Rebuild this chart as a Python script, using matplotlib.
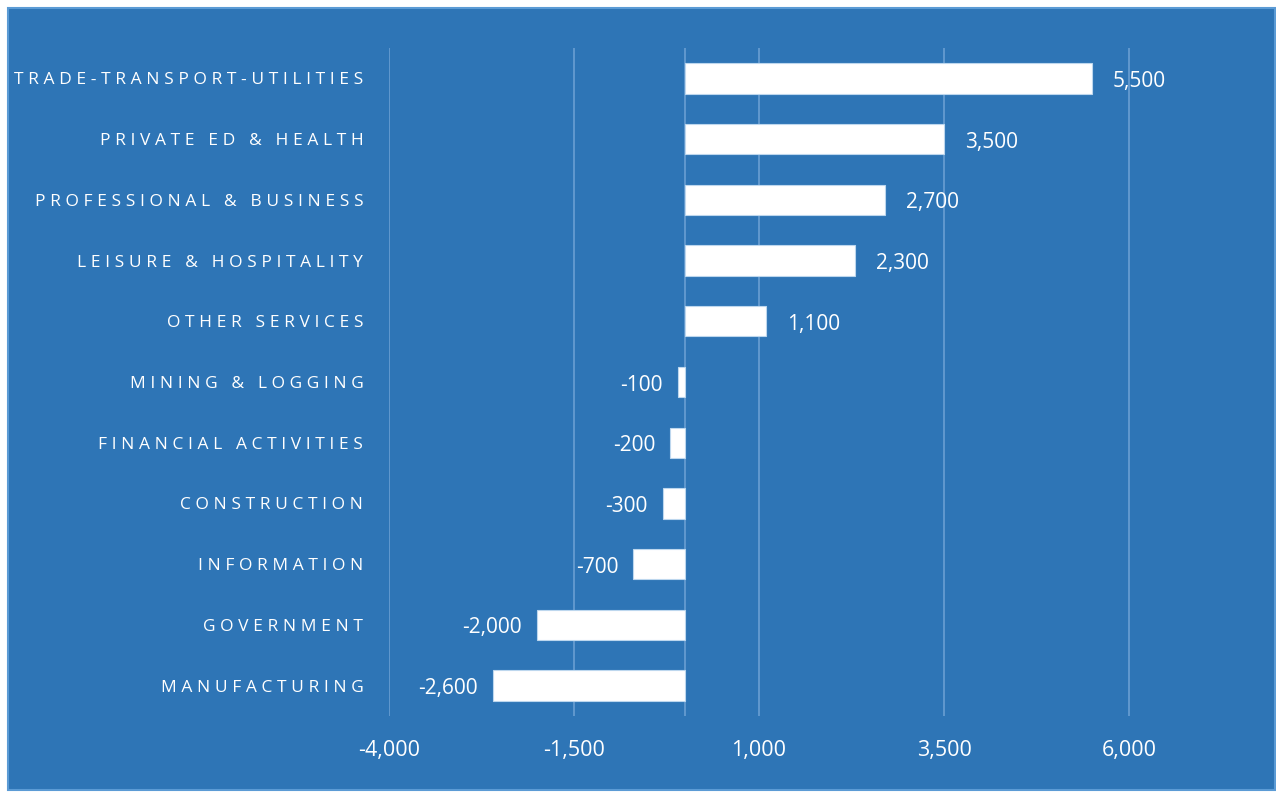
import matplotlib
matplotlib.use('Agg')
import matplotlib.pyplot as plt
from matplotlib.patches import Rectangle

# Data, top to bottom as in the chart
categories = ['TRADE-TRANSPORT-UTILITIES', 'PRIVATE ED & HEALTH', 'PROFESSIONAL & BUSINESS',
              'LEISURE & HOSPITALITY', 'OTHER SERVICES', 'MINING & LOGGING',
              'FINANCIAL ACTIVITIES', 'CONSTRUCTION', 'INFORMATION', 'GOVERNMENT',
              'MANUFACTURING']
values = [5500, 3500, 2700, 2300, 1100, -100, -200, -300, -700, -2000, -2600]
xticks = [-4000, -1500, 1000, 3500, 6000]

BG = '#2E75B6'
GRID = '#6A9FD2'

plt.rcParams['font.family'] = ['Open Sans', 'DejaVu Sans']

fig = plt.figure(figsize=(12.76, 7.96), dpi=100)
fig.patch.set_facecolor('white')
fig.patches.append(Rectangle((8 / 1276, 6 / 796), 1267 / 1276, 782 / 796,
                             transform=fig.transFigure, facecolor=BG,
                             edgecolor='#5B9BD5', linewidth=1.5, zorder=-1))

ax = fig.add_axes([389 / 1276, 80 / 796, 851 / 1276, 668 / 796])
ax.set_zorder(2)
ax.set_facecolor('none')

y = list(range(len(categories)))[::-1]
ax.barh(y, values, height=0.5, color='white', edgecolor='#BDD7EE', linewidth=0.8, zorder=3)

ax.set_xlim(-4000, 7500)
ax.set_ylim(-0.5, len(categories) - 0.5)
ax.set_xticks(xticks)
ax.set_xticklabels([f'{t:,}' for t in xticks])
for t in xticks + [0]:
    ax.axvline(t, color=GRID, linewidth=1.2, zorder=1)

# wide letter spacing like the original
ax.set_yticks(y)
ax.set_yticklabels(['\u2009\u200a'.join(c) for c in categories])
ax.tick_params(axis='y', length=0, pad=18.5, labelsize=12.5, labelcolor='white')
ax.tick_params(axis='x', length=0, pad=17, labelsize=15.5, labelcolor='white')
for s in ax.spines.values():
    s.set_visible(False)

for yi, v in zip(y, values):
    if v >= 0:
        ax.text(v + 280, yi - 0.05, f'{v:,}', ha='left', va='center',
                color='white', fontsize=15)
    else:
        ax.text(v - 200, yi - 0.05, f'{v:,}', ha='right', va='center',
                color='white', fontsize=15)

fig.savefig('out.png', dpi=100, facecolor=fig.get_facecolor())
